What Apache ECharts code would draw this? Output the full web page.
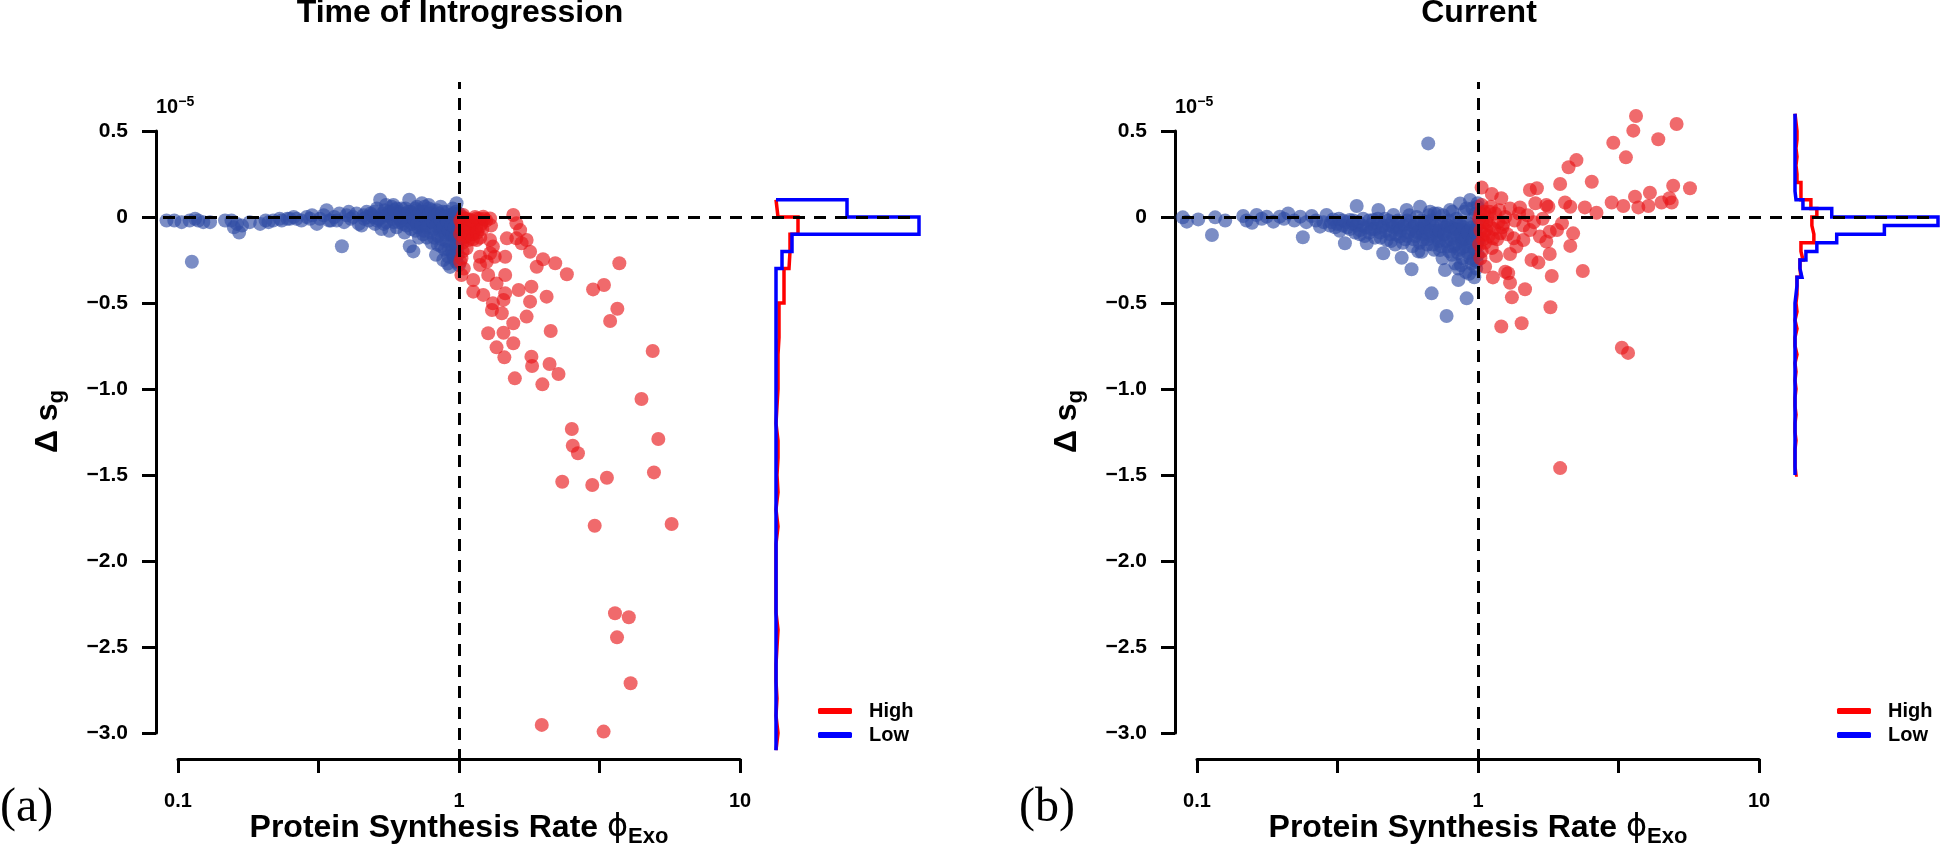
<!DOCTYPE html>
<html>
<head>
<meta charset="utf-8">
<title>Introgression selection shift</title>
<script src="https://cdn.jsdelivr.net/npm/echarts@6/dist/echarts.min.js"></script>
<style>
  html, body { margin: 0; padding: 0; background: #fff; }
  #chart { width: 1940px; height: 849px; }
</style>
</head>
<body>
<div id="chart"></div>
<script>
// ---- data (phi = protein synthesis rate, ds = delta s_g in 1e-5) ----

// (a) Time of Introgression, low-expression genes (phi < 1)
var lowA = [
  [0.091,-0.02],[0.097,-0.02],[0.103,-0.03],[0.110,-0.02],[0.115,-0.01],[0.118,-0.02],[0.123,-0.03],[0.130,-0.03],[0.112,-0.26],
  [0.147,-0.02],[0.155,-0.02],[0.158,-0.06],[0.162,-0.04],[0.165,-0.09],[0.169,-0.05],[0.180,-0.03],[0.196,-0.04],[0.205,-0.02],
  [0.210,-0.03],[0.218,-0.02],[0.230,-0.01],[0.234,-0.02],[0.245,-0.01],[0.250,-0.01],[0.258,0.00],[0.264,-0.01],[0.275,-0.02],
  [0.287,0.00],[0.295,-0.01],[0.300,0.01],[0.312,-0.04],[0.320,-0.01],[0.330,0.01],[0.338,0.04],[0.345,-0.02],[0.350,-0.02],
  [0.360,0.00],[0.367,-0.02],[0.375,0.02],[0.383,-0.17],[0.390,-0.03],[0.398,0.01],[0.405,0.03],[0.412,-0.01],[0.420,0.00],
  [0.432,0.02],[0.440,-0.04],[0.450,-0.05],[0.458,0.01],[0.469,0.03],[0.478,-0.02],[0.485,0.02],[0.495,0.00],[0.502,-0.04],
  [0.510,0.05],[0.515,-0.01],[0.524,0.10],[0.530,-0.07],[0.535,0.02],[0.545,0.04],[0.550,-0.03],[0.560,0.00],[0.565,-0.08],
  [0.575,0.06],[0.584,0.07],[0.586,-0.03],[0.595,0.01],[0.600,-0.06],[0.605,0.03],[0.615,-0.01],[0.625,0.05],[0.632,-0.04],
  [0.640,-0.09],[0.648,0.02],[0.655,-0.02],[0.665,0.10],[0.668,-0.17],[0.672,0.03],[0.680,-0.04],[0.688,-0.20],[0.695,0.01],
  [0.700,-0.08],[0.708,0.06],[0.715,-0.06],[0.722,0.00],[0.730,-0.02],[0.738,0.08],[0.745,-0.10],[0.752,0.03],[0.760,-0.05],
  [0.768,-0.12],[0.775,0.00],[0.782,0.05],[0.790,-0.03],[0.798,-0.15],[0.805,0.02],[0.812,-0.07],[0.820,-0.01],[0.828,-0.22],
  [0.835,0.04],[0.842,-0.11],[0.850,-0.02],[0.858,-0.06],[0.865,-0.17],[0.872,0.01],[0.879,-0.25],[0.885,-0.09],[0.892,-0.03],
  [0.900,-0.14],[0.905,0.03],[0.911,-0.27],[0.918,-0.19],[0.925,-0.05],[0.930,-0.29],[0.937,-0.11],[0.944,0.00],[0.950,-0.22],
  [0.957,-0.07],[0.963,-0.15],[0.970,-0.02],[0.976,-0.26],[0.982,-0.10],[0.988,-0.18],[0.994,-0.05],[0.998,-0.13],
  [0.52,-0.01],[0.57,0.02],[0.62,-0.02],[0.66,0.00],[0.70,-0.03],[0.73,0.02],[0.77,-0.02],[0.80,0.00],[0.84,-0.04],[0.87,-0.01],
  [0.90,-0.06],[0.93,-0.02],[0.96,-0.04],[0.99,-0.01],[0.55,0.07],[0.60,0.05],[0.71,0.04],[0.78,0.07],[0.86,0.06],[0.95,0.05],[0.98,0.08],
  [0.46,-0.01],[0.47,0.00],[0.49,0.01],[0.50,0.03],[0.51,-0.02],[0.53,0.00],[0.54,-0.04],[0.555,0.01],[0.565,0.03],[0.58,-0.01],
  [0.59,0.04],[0.61,-0.03],[0.62,0.02],[0.635,0.00],[0.645,0.05],[0.65,-0.05],[0.66,0.03],[0.675,-0.07],[0.685,0.02],[0.69,-0.01],
  [0.70,0.05],[0.71,-0.04],[0.72,-0.12],[0.725,0.03],[0.735,-0.05],[0.74,0.01],[0.75,-0.08],[0.755,0.06],[0.765,-0.01],[0.77,-0.06],
  [0.785,0.02],[0.795,-0.09],[0.80,0.04],[0.81,-0.03],[0.815,-0.12],[0.825,0.01],[0.83,-0.05],[0.84,-0.16],[0.845,0.02],[0.855,-0.08],
  [0.86,-0.02],[0.87,-0.13],[0.875,0.03],[0.88,-0.06],[0.89,-0.19],[0.895,0.00],[0.90,-0.10],[0.91,-0.03],[0.915,-0.23],[0.92,-0.08],
  [0.93,0.01],[0.935,-0.16],[0.94,-0.05],[0.945,-0.20],[0.95,-0.10],[0.955,0.02],[0.96,-0.24],[0.965,-0.06],[0.97,-0.12],[0.975,0.03],
  [0.98,-0.17],[0.985,-0.03],[0.99,-0.22],[0.995,-0.08],[0.999,0.02],[0.999,-0.28]
];

// (a) Time of Introgression, high-expression genes (phi > 1)
var highA = [
  [1.035,0.012],[1.094,-0.017],[1.155,-0.008],[1.22,0.002],[1.29,-0.008],[1.56,0.012],[1.60,-0.037],[1.65,-0.076],[1.064,-0.056],
  [1.124,-0.095],[1.08,-0.134],[1.155,-0.134],[1.29,-0.134],[1.32,-0.172],[1.29,-0.211],[1.48,-0.124],[1.46,-0.231],[1.60,-0.124],
  [1.67,-0.153],[1.74,-0.134],[1.79,-0.202],[1.89,-0.289],[1.99,-0.246],[2.20,-0.269],[2.42,-0.333],[1.188,-0.231],[1.255,-0.260],
  [1.34,-0.231],[1.188,-0.279],[1.02,-0.337],[1.124,-0.366],[1.27,-0.337],[1.46,-0.337],[1.36,-0.386],[1.124,-0.434],[1.22,-0.453],
  [1.32,-0.502],[1.46,-0.444],[1.44,-0.482],[1.31,-0.541],[1.42,-0.560],[1.63,-0.424],[1.81,-0.405],[1.79,-0.492],[2.05,-0.463],
  [1.74,-0.579],[1.56,-0.618],[1.27,-0.676],[1.44,-0.673],[1.56,-0.734],[1.36,-0.758],[1.45,-0.816],[1.81,-0.812],[1.82,-0.866],
  [2.10,-0.855],[2.26,-0.913],[1.58,-0.938],[1.98,-0.973],[2.12,-0.663],[3.00,-0.421],[3.28,-0.395],[3.72,-0.269],[3.66,-0.533],
  [3.45,-0.605],[4.89,-0.779],[1.064,-0.182],[1.02,-0.240],[1.188,-0.056],[1.064,-0.114],
  [1.02,-0.03],[1.05,-0.08],[1.08,-0.02],[1.10,-0.05],[1.12,-0.10],[1.03,-0.15],[1.15,-0.06],[1.20,-0.04],[1.25,-0.02],[1.30,-0.05],
  [1.04,-0.01],[1.07,-0.04],[1.13,-0.03],[1.18,-0.01],[1.01,-0.10],
  [1.01,-0.02],[1.02,-0.07],[1.03,0.00],[1.04,-0.12],[1.05,-0.04],[1.06,-0.01],[1.07,-0.09],[1.09,-0.06],[1.11,-0.02],[1.12,-0.13],
  [1.14,0.00],[1.16,-0.09],[1.19,-0.12],[1.21,-0.07],[1.23,-0.01],[1.03,-0.20],[1.01,-0.26],[1.04,-0.30],
  [4.46,-1.058],[2.52,-1.233],[5.12,-1.291],[2.54,-1.33],[2.65,-1.374],[4.94,-1.485],[2.33,-1.539],[2.98,-1.558],[3.36,-1.516],
  [3.04,-1.795],[5.71,-1.785],[3.59,-2.304],[4.02,-2.327],[3.65,-2.444],[4.08,-2.711],[1.97,-2.953],[3.27,-2.992]
];

// (b) Current, low-expression genes
var lowB = [
  [0.089,-0.002],[0.092,-0.027],[0.101,-0.014],[0.113,-0.105],[0.116,-0.002],[0.126,-0.021],[0.146,0.006],[0.150,-0.02],[0.157,-0.033],
  [0.163,0.012],[0.170,-0.01],[0.177,0.002],[0.187,-0.027],[0.197,0.002],[0.204,-0.01],[0.211,0.021],[0.222,-0.02],[0.233,0.002],
  [0.238,-0.118],[0.245,-0.03],[0.256,0.006],[0.265,-0.02],[0.274,-0.056],[0.282,-0.03],[0.289,0.012],[0.297,-0.05],[0.305,-0.014],
  [0.315,-0.04],[0.322,-0.08],[0.330,-0.02],[0.336,-0.153],[0.343,-0.06],[0.350,-0.017],[0.358,-0.04],[0.365,-0.09],[0.370,0.064],
  [0.375,-0.03],[0.380,-0.076],[0.388,-0.05],[0.395,-0.11],[0.402,-0.153],[0.410,-0.02],[0.418,-0.07],[0.424,-0.017],[0.430,-0.12],
  [0.436,-0.04],[0.442,0.041],[0.448,-0.09],[0.455,-0.06],[0.460,-0.211],[0.466,-0.01],[0.473,-0.134],[0.480,-0.05],[0.487,-0.10],
  [0.493,-0.03],[0.500,0.012],[0.507,-0.16],[0.514,-0.07],[0.520,-0.02],[0.527,-0.114],[0.535,-0.237],[0.542,-0.05],[0.550,-0.13],
  [0.557,0.041],[0.565,-0.09],[0.572,-0.03],[0.580,-0.304],[0.584,-0.17],[0.589,-0.056],[0.597,-0.11],[0.605,0.00],[0.613,-0.20],
  [0.622,0.06],[0.626,-0.07],[0.630,-0.202],[0.638,-0.13],[0.645,-0.03],[0.652,-0.09],[0.660,-0.16],[0.665,0.428],[0.668,0.01],
  [0.675,0.031],[0.680,-0.11],[0.684,-0.444],[0.690,-0.05],[0.698,-0.19],[0.705,-0.08],[0.713,-0.114],[0.720,0.02],[0.726,-0.14],
  [0.732,-0.192],[0.740,-0.04],[0.748,-0.24],[0.755,-0.10],[0.763,-0.308],[0.766,-0.06],[0.773,-0.576],[0.780,-0.17],[0.787,-0.02],
  [0.795,0.041],[0.800,-0.13],[0.808,-0.22],[0.817,-0.172],[0.823,-0.07],[0.830,-0.27],[0.838,-0.01],[0.845,-0.11],[0.851,-0.299],
  [0.851,-0.366],[0.857,-0.19],[0.863,0.079],[0.870,-0.05],[0.876,-0.14],[0.882,-0.24],[0.887,-0.076],[0.893,0.03],[0.900,-0.17],
  [0.905,-0.32],[0.911,-0.473],[0.915,-0.10],[0.922,-0.21],[0.928,-0.04],[0.937,0.099],[0.942,-0.15],[0.948,-0.27],[0.955,0.05],
  [0.962,-0.25],[0.968,-0.08],[0.974,-0.19],[0.980,0.02],[0.985,-0.30],[0.989,-0.114],[0.994,-0.05],[0.997,0.08],[0.999,-0.22],
  [0.52,-0.06],[0.56,-0.02],[0.60,-0.08],[0.64,-0.05],[0.68,-0.02],[0.72,-0.09],[0.76,-0.03],[0.80,-0.06],[0.84,-0.04],[0.88,-0.12],
  [0.92,-0.08],[0.96,-0.01],[0.99,-0.16],
  [0.30,-0.03],[0.31,-0.06],[0.32,-0.01],[0.33,-0.05],[0.34,-0.03],[0.35,-0.07],[0.36,-0.02],[0.37,-0.05],[0.38,-0.10],[0.39,-0.01],
  [0.40,-0.06],[0.41,-0.09],[0.42,-0.04],[0.43,-0.07],[0.44,-0.01],[0.45,-0.12],[0.46,-0.05],[0.47,-0.08],[0.48,-0.02],[0.49,-0.14],
  [0.50,-0.06],[0.51,-0.10],[0.52,-0.03],[0.53,-0.08],[0.54,-0.15],[0.55,-0.04],[0.56,-0.11],[0.57,0.01],[0.58,-0.07],[0.59,-0.13],
  [0.60,-0.04],[0.61,-0.09],[0.62,-0.15],[0.63,-0.02],[0.64,-0.10],[0.65,-0.06],[0.66,-0.13],[0.67,-0.03],[0.68,-0.08],[0.69,-0.16],
  [0.70,0.02],[0.71,-0.05],[0.72,-0.12],[0.73,-0.08],[0.74,-0.17],[0.75,0.01],[0.76,-0.10],[0.77,-0.14],[0.78,-0.05],[0.79,-0.20],
  [0.80,-0.09],[0.81,0.03],[0.82,-0.12],[0.83,-0.16],[0.84,-0.07],[0.85,-0.21],[0.86,-0.03],[0.87,-0.10],[0.88,-0.18],[0.89,-0.06],
  [0.90,-0.13],[0.91,0.05],[0.92,-0.09],[0.93,-0.17],[0.94,-0.24],[0.95,-0.06],[0.96,-0.13],[0.97,-0.20],[0.98,-0.09],[0.99,-0.26],
  [0.995,0.06],[0.999,-0.14],[0.93,-0.33],[0.97,-0.35],[0.87,-0.28]
];

// (b) Current, high-expression genes
var highB = [
  [1.03,0.172],[1.12,0.134],[1.21,0.109],[1.30,0.050],[1.41,0.056],[1.53,0.157],[1.62,0.167],[1.60,0.080],[1.75,0.070],[1.78,0.060],
  [1.96,0.192],[2.04,0.084],[2.10,0.289],[2.24,0.331],[2.13,0.060],[2.40,0.056],[2.54,0.205],[2.64,0.025],[2.99,0.084],[3.03,0.432],
  [3.29,0.064],[3.36,0.347],[3.57,0.502],[3.65,0.587],[3.62,0.118],[3.72,0.056],[4.04,0.064],[4.09,0.141],[4.38,0.452],[4.50,0.084],
  [4.89,0.084],[4.95,0.182],[5.09,0.541],[4.80,0.109],[5.68,0.167],
  [1.07,-0.076],[1.13,-0.124],[1.20,-0.095],[1.34,-0.124],[1.37,-0.172],[1.45,-0.134],[1.53,-0.076],[1.66,-0.114],[1.75,-0.143],
  [1.80,-0.085],[1.91,-0.076],[1.99,-0.037],[2.18,-0.095],[2.13,-0.168],[1.80,-0.215],[1.55,-0.250],[1.64,-0.265],[1.30,-0.215],
  [1.16,-0.227],[1.06,-0.289],[1.13,-0.351],[1.25,-0.318],[1.28,-0.327],[1.30,-0.382],[1.32,-0.467],[1.47,-0.420],[1.83,-0.343],
  [2.36,-0.314],[1.81,-0.525],[1.21,-0.637],[1.43,-0.618],
  [1.02,0.02],[1.04,-0.03],[1.05,-0.10],[1.08,0.00],[1.10,-0.05],[1.12,-0.18],[1.15,0.02],[1.18,-0.03],[1.22,-0.06],[1.25,0.00],
  [1.03,-0.20],[1.06,-0.15],[1.10,0.03],[1.27,-0.10],[1.35,-0.02],[1.40,0.02],[1.45,-0.05],[1.50,0.01],[1.58,-0.03],[1.70,-0.01],
  [1.01,-0.01],[1.02,-0.08],[1.03,0.07],[1.04,-0.13],[1.05,0.03],[1.07,-0.03],[1.09,-0.11],[1.11,0.06],[1.14,-0.07],[1.17,-0.13],
  [1.19,0.04],[1.23,-0.04],[1.01,-0.16],[1.02,-0.24],
  [3.25,-0.76],[3.42,-0.79],[1.96,-1.46]
];

// marginal histograms of delta s_g (bar lengths), bins listed from the top edge downwards
var histTopA = 0.1, histBinA = 0.1;
var histHighA = [2,22,14,13,8,8,3,3, 2,2,2,1,0,2,2,1, 2,0,2,0,0,0,0,0, 2,1,0,0,1,0,2,0];
var histLowA  = [71,143,16,6,0,0,0,0, 0,0,0,0,0,0,0,0, 0,0,0,0,0,0,0,0, 0,0,0,0,0,0,0,0];

var histTopB = 0.6, histBinB = 0.05;
var histHighB = [1,2,2,1,2,1,2,2,6,6,16,22,17,19,19,6,8,5,6,2,2, 1,2,0,2,0,0,2,0,1,0,1,0,0,1,0,0,1,0,0,0,1];
var histLowB  = [0,0,0,0,0,0,0,0,0,1,8,37,144,90,42,22,11,5,7,2,1, 0,0,0,0,0,0,0,0,0,0,0,0,0,0,0,0,0,0,0,0,0];

var yTicks = [-3, 0.5];          // labelled y range, step 0.5
var xTicks = [0.1, 10];          // labelled x range (log)
var xLim = [0.07444, 43.35];     // plot region incl. the margin histogram
var yLim = [-3.163, 0.785];

// ---- layout ----
var FONT = '"Liberation Sans", Arial, Helvetica, sans-serif';
var DX = 1019;
var BLUE_PT = 'rgba(48,76,164,0.80)';
var RED_PT = 'rgba(232,22,25,0.80)';

function stepPath(top, bin, vals) {
  var pts = [[0, top]];
  vals.forEach(function (v, i) {
    pts.push([v, top - i * bin], [v, top - (i + 1) * bin]);
  });
  pts.push([0, top - vals.length * bin]);
  return pts;
}

var chart = echarts.init(document.getElementById('chart'), null, { renderer: 'canvas' });

var grids = [], xAxes = [], yAxes = [], series = [], legends = [], titles = [], graphics = [];

function addPanel(k, title, low, high, hTop, hBin, hHigh, hLow, tag) {
  var off = k * DX;
  var g0 = grids.length;
  // 0: scatter region, 1: histogram, 2: y axis, 3: x axis
  grids.push({ left: 142 + off, top: 82, width: 777, height: 679 });
  grids.push({ left: 776 + off, top: 82, width: 143, height: 679 });
  grids.push({ left: 156 + off, top: 131, width: 10, height: 602 });
  grids.push({ left: 178 + off, top: 700, width: 562, height: 61 });

  // scatter axes (hidden lines, y name kept)
  xAxes.push({ gridIndex: g0, type: 'log', logBase: 10, min: xLim[0], max: xLim[1], show: false });
  yAxes.push({
    gridIndex: g0, type: 'value', min: yLim[0], max: yLim[1],
    axisLine: { show: false }, axisTick: { show: false }, axisLabel: { show: false }, splitLine: { show: false },
    name: '{a|\u0394 s}{s|g}', nameLocation: 'middle', nameGap: 74, nameRotate: 90,
    nameTextStyle: {
      color: '#000',
      rich: {
        a: { fontSize: 32, fontWeight: 'bold', fontFamily: FONT, lineHeight: 40, color: '#000' },
        s: { fontSize: 22, fontWeight: 'bold', fontFamily: FONT, lineHeight: 22, verticalAlign: 'bottom', color: '#000' }
      }
    }
  });
  // histogram axes
  var hMax = Math.max.apply(null, hLow.concat(hHigh));
  xAxes.push({ gridIndex: g0 + 1, type: 'value', min: 0, max: hMax, show: false });
  yAxes.push({ gridIndex: g0 + 1, type: 'value', min: yLim[0], max: yLim[1], show: false });
  // y display axis
  xAxes.push({ gridIndex: g0 + 2, type: 'value', show: false });
  yAxes.push({
    gridIndex: g0 + 2, type: 'value', min: yTicks[0], max: yTicks[1], interval: 0.5,
    axisLine: { show: true, lineStyle: { color: '#000', width: 3 } },
    axisTick: { show: true, length: 14, lineStyle: { color: '#000', width: 3 } },
    splitLine: { show: false },
    axisLabel: {
      margin: 28, color: '#000', fontSize: 21, fontWeight: 'bold', fontFamily: FONT,
      formatter: function (v) {
        if (Math.abs(v) < 1e-9) return '0';
        return (v < 0 ? '\u2212' : '') + Math.abs(v).toFixed(1);
      }
    },
    name: '{m|10}{s|\u22125}', nameLocation: 'end', nameGap: 12,
    nameTextStyle: {
      align: 'left', verticalAlign: 'bottom',
      rich: {
        m: { fontSize: 20, fontWeight: 'bold', fontFamily: FONT, lineHeight: 24, color: '#000' },
        s: { fontSize: 14, fontWeight: 'bold', fontFamily: FONT, lineHeight: 14, verticalAlign: 'top', color: '#000' }
      }
    }
  });
  // x display axis
  xAxes.push({
    gridIndex: g0 + 3, type: 'log', logBase: Math.sqrt(10), min: xTicks[0], max: xTicks[1],
    axisLine: { show: true, lineStyle: { color: '#000', width: 3 } },
    axisTick: { show: true, length: 14, lineStyle: { color: '#000', width: 3 } },
    splitLine: { show: false }, minorTick: { show: false },
    axisLabel: {
      margin: 32, color: '#000', fontSize: 20, fontWeight: 'bold', fontFamily: FONT,
      formatter: function (v) {
        var e = Math.log10(v);
        if (Math.abs(e - Math.round(e)) > 1e-6) return '';
        return String(+Math.pow(10, Math.round(e)).toPrecision(3));
      }
    },
    name: '{a|Protein Synthesis Rate }{p|\u03d5}{s|Exo}', nameLocation: 'middle', nameGap: 47,
    nameTextStyle: {
      rich: {
        a: { fontSize: 32, fontWeight: 'bold', fontFamily: FONT, lineHeight: 40, color: '#000' },
        p: { fontSize: 32, fontFamily: '"DejaVu Sans", ' + FONT, lineHeight: 40, color: '#000' },
        s: { fontSize: 22, fontWeight: 'bold', fontFamily: FONT, lineHeight: 22, verticalAlign: 'bottom', color: '#000' }
      }
    }
  });
  yAxes.push({ gridIndex: g0 + 3, type: 'value', show: false });

  // histograms (High under Low)
  series.push({
    name: 'High', type: 'line', xAxisIndex: g0 + 1, yAxisIndex: g0 + 1,
    data: stepPath(hTop, hBin, hHigh), showSymbol: false, clip: false, z: 2,
    lineStyle: { color: '#ff0000', width: 3.5, join: 'miter' }, itemStyle: { color: '#ff0000' }
  });
  series.push({
    name: 'Low', type: 'line', xAxisIndex: g0 + 1, yAxisIndex: g0 + 1,
    data: stepPath(hTop, hBin, hLow), showSymbol: false, clip: false, z: 2,
    lineStyle: { color: '#0000ff', width: 3.5, join: 'miter' }, itemStyle: { color: '#0000ff' }
  });
  // scatter
  series.push({
    name: title + ' low', type: 'scatter', xAxisIndex: g0, yAxisIndex: g0, data: low,
    symbolSize: 14, z: 3, itemStyle: { color: BLUE_PT }
  });
  series.push({
    name: title + ' high', type: 'scatter', xAxisIndex: g0, yAxisIndex: g0, data: high,
    symbolSize: 14, z: 3, itemStyle: { color: RED_PT },
    markLine: {
      silent: true, symbol: 'none', label: { show: false },
      lineStyle: { color: '#000', width: 3, type: [12, 9] },
      data: [{ xAxis: 1 }, { yAxis: 0 }]
    }
  });

  legends.push({
    data: ['High', 'Low'], orient: 'vertical', left: 813 + off, top: 696,
    itemWidth: 34, itemHeight: 6, itemGap: 4, icon: 'roundRect', selectedMode: false,
    textStyle: { fontSize: 20, fontWeight: 'bold', fontFamily: FONT, color: '#000', padding: [0, 0, 0, 12] }
  });
  titles.push({
    text: title, left: 460 + off, top: -3, textAlign: 'center', padding: 0,
    textStyle: { fontSize: 32, fontWeight: 'bold', fontFamily: FONT, color: '#000' }
  });
  graphics.push({
    type: 'text', left: off, top: 784,
    style: { text: tag, font: '48px "Liberation Serif", "Times New Roman", serif', fill: '#000' }
  });
}

addPanel(0, 'Time of Introgression', lowA, highA, histTopA, histBinA, histHighA, histLowA, '(a)');
addPanel(1, 'Current', lowB, highB, histTopB, histBinB, histHighB, histLowB, '(b)');

chart.setOption({
  animation: false,
  backgroundColor: '#fff',
  title: titles,
  legend: legends,
  grid: grids,
  xAxis: xAxes,
  yAxis: yAxes,
  series: series,
  graphic: graphics
});
</script>
</body>
</html>
